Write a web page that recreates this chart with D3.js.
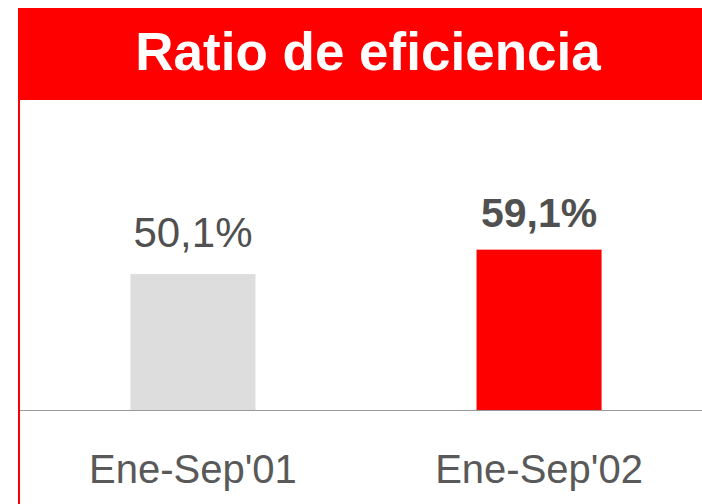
<!DOCTYPE html>
<html>
<head>
<meta charset="utf-8">
<script src="https://cdn.jsdelivr.net/npm/d3@7"></script>
<style>
	html, body { margin: 0; padding: 0; background: #fff; }
	svg { display: block; font-family: "Liberation Sans", Arial, sans-serif; }
</style>
</head>
<body>
<svg id="chart" width="702" height="504"></svg>
<script>
'use strict';

// data
const title = 'Ratio de eficiencia';
const categories = ["Ene-Sep'01", "Ene-Sep'02"];
const values = [50.1, 59.1];
const valueLabels = ['50,1%', '59,1%'];
const barColors = ['#dddddd', '#ff0000'];

const W = 702, H = 504;
const svg = d3.select('#chart');

// - frame: red header band and left rule
svg.append('rect')
	.attr('x', 18).attr('y', 8)
	.attr('width', W - 18).attr('height', 92)
	.attr('fill', '#ff0000');

svg.append('rect')
	.attr('x', 18).attr('y', 8)
	.attr('width', 2).attr('height', H - 8)
	.attr('fill', '#ff0000');

svg.append('text')
	.attr('x', 368).attr('y', 70)
	.attr('text-anchor', 'middle')
	.attr('fill', '#ffffff')
	.attr('font-weight', 'bold')
	.attr('font-size', 53)
	.text(title);

// - scales
const x = d3.scaleBand()
	.domain(categories)
	.range([20, 712])
	.paddingInner(0.6387)
	.paddingOuter(0.319);

const y = d3.scaleLinear()
	.domain([0, 60])
	.range([410, 247.2]);

// - bars
const data = categories.map((c, i) => ({ cat: c, value: values[i], label: valueLabels[i], color: barColors[i] }));

svg.selectAll('rect.bar')
	.data(data)
	.join('rect')
		.attr('class', 'bar')
		.attr('x', d => x(d.cat))
		.attr('y', d => y(d.value))
		.attr('width', x.bandwidth())
		.attr('height', d => y(0) - y(d.value))
		.attr('fill', d => d.color);

// value labels (the last one is bold)
let isLast = (i) => i === data.length - 1;

svg.selectAll('text.val')
	.data(data)
	.join('text')
		.attr('class', 'val')
		.attr('x', d => x(d.cat) + x.bandwidth() / 2)
		.attr('y', (d, i) => y(d.value) - (isLast(i) ? 23 : 27))
		.attr('text-anchor', 'middle')
		.attr('font-size', (d, i) => isLast(i) ? 41 : 42)
		.attr('font-weight', (d, i) => isLast(i) ? 'bold' : 'normal')
		.attr('fill', '#505050')
		.text(d => d.label);

// - baseline + category axis
const axis = svg.append('g')
	.attr('transform', `translate(0, ${y(0)})`)
	.call(d3.axisBottom(x).tickSize(0).tickPadding(0));

axis.select('.domain')
	.attr('d', `M20,0.5H${W}`)
	.attr('stroke', '#999999');

axis.selectAll('.tick text')
	.attr('dy', null)
	.attr('y', 73)
	.attr('font-size', 40)
	.attr('font-family', '"Liberation Sans", Arial, sans-serif')
	.attr('fill', '#595959');
</script>
</body>
</html>
